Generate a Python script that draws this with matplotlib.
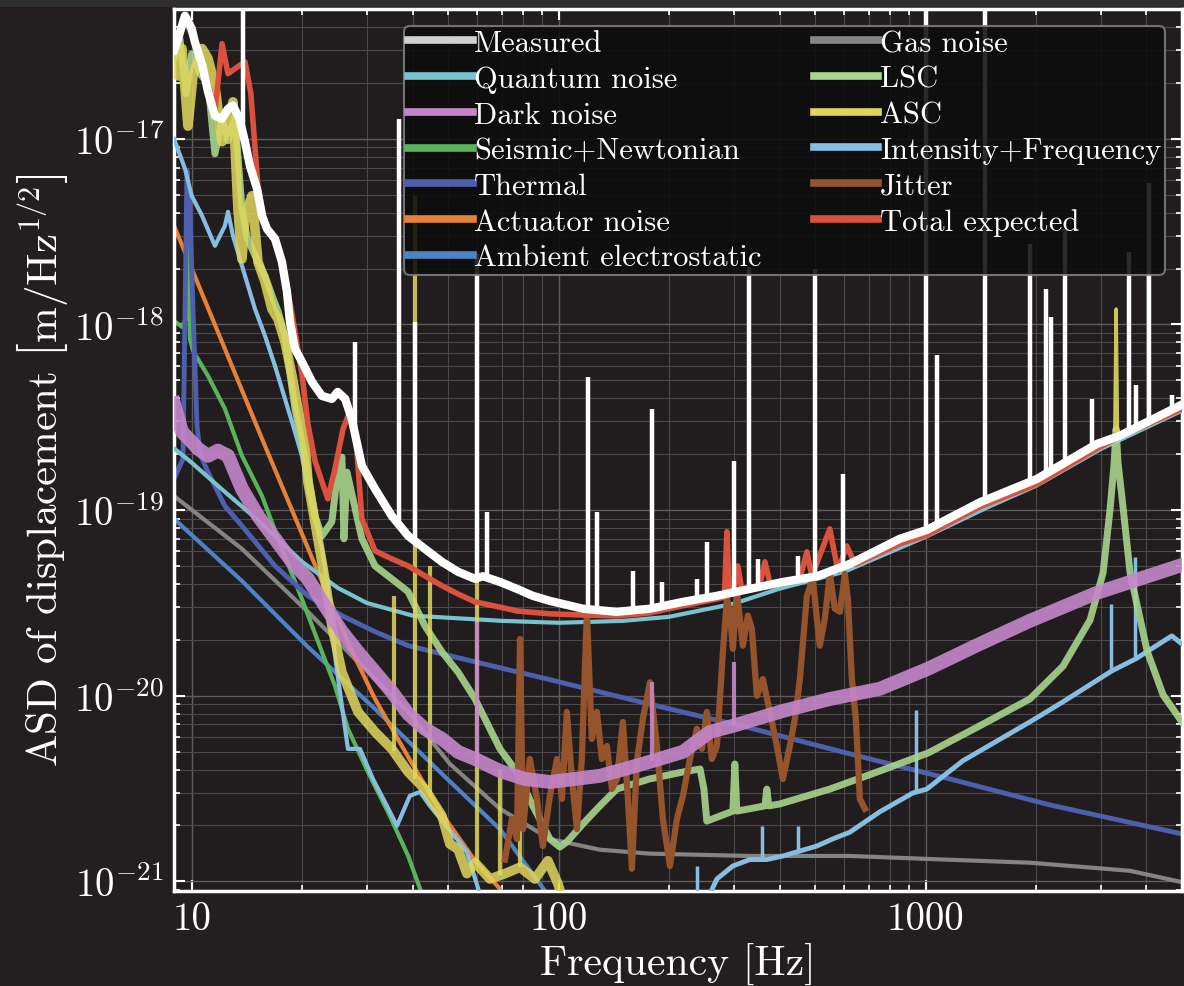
import numpy as np
import matplotlib
matplotlib.use('Agg')
import matplotlib.pyplot as plt
from matplotlib.lines import Line2D
from matplotlib.patches import Rectangle
from matplotlib.ticker import LogLocator, NullFormatter, LogFormatterSciNotation, FixedLocator

plt.rcParams['font.family'] = 'serif'
plt.rcParams['font.serif'] = ['cmr10']
plt.rcParams['mathtext.fontset'] = 'cm'
plt.rcParams['axes.unicode_minus'] = False
plt.rcParams['axes.formatter.use_mathtext'] = True

# ---------------- data (frequency in Hz, ASD in m/Hz^1/2) ----------------
measured_freq = [8.95, 9.18, 9.59, 10.0, 10.2, 10.7, 11.08, 11.57, 12.1, 12.56, 12.96, 13.5, 13.97, 14.41, 15.07,
                 15.55, 16.04, 16.87, 17.62, 18.18, 18.53, 19.12, 19.97, 21.27, 22.65, 24.1, 25.0, 26.2, 27.3, 29.1,
                 31.6, 35.1, 38.9, 43.2, 48.1, 53.2, 59.2, 62.2, 69.2, 77.0, 85.1, 94.7, 116.5, 144, 177, 218, 270,
                 332, 409, 506, 622, 851, 1008, 1406, 2011, 2930, 3380, 5000]
measured_asd = [3.0e-17, 3.46e-17, 4.6e-17, 3.92e-17, 3.33e-17, 2.47e-17, 1.79e-17, 1.33e-17, 1.28e-17, 1.45e-17,
                1.51e-17, 1.28e-17, 9.64e-18, 7.16e-18, 5.38e-18, 3.85e-18, 3.27e-18, 2.89e-18, 2.17e-18, 1.50e-18,
                1.03e-18, 7.39e-19, 6.3e-19, 4.91e-19, 4.12e-19, 3.97e-19, 4.33e-19, 3.97e-19, 3.10e-19, 1.73e-19,
                1.30e-19, 9.3e-20, 7.26e-20, 6.18e-20, 5.26e-20, 4.65e-20, 4.26e-20, 4.4e-20, 4.10e-20, 3.76e-20,
                3.45e-20, 3.24e-20, 2.94e-20, 2.83e-20, 2.94e-20, 3.2e-20, 3.45e-20, 3.76e-20, 4.10e-20, 4.4e-20,
                5.13e-20, 7.0e-20, 7.82e-20, 1.10e-19, 1.47e-19, 2.27e-19, 2.51e-19, 3.7e-19]
measured_line_freq = [13.8, 27.8, 36.7, 40.6, 60, 63.8, 120, 127.2, 159.4, 180, 191.2, 238.2, 253.5, 300, 331, 349,
                      448.7, 500, 595, 1000, 1074, 1452, 1924, 2127, 2195, 2397, 2840, 3581, 3740, 4060, 4690]
measured_line_peak = [1e-16, 8.05e-19, 1.28e-17, 1.03e-18, 2.40e-18, 9.8e-20, 5.2e-19, 9.8e-20, 4.7e-20, 3.51e-19,
                      4.1e-20, 4.26e-20, 6.75e-20, 1.84e-19, 2.04e-18, 5.46e-20, 5.65e-20, 1.99e-18, 1.57e-19, 1e-16,
                      6.86e-19, 1e-16, 2.72e-18, 1.56e-18, 1.10e-18, 3.27e-18, 3.97e-19, 2.46e-18, 4.73e-19, 5.79e-18,
                      4.18e-19]

quantum_freq = [9, 10, 12, 15, 20, 25, 30, 40, 50, 70, 100, 150, 200, 300, 400, 600, 1000, 1500, 2000, 3000, 5000]
quantum_asd = [2.13e-19, 1.80e-19, 1.31e-19, 8.97e-20, 5.26e-20, 3.81e-20, 3.16e-20, 2.70e-20, 2.63e-20, 2.53e-20,
               2.47e-20, 2.53e-20, 2.66e-20, 3.13e-20, 3.77e-20, 4.65e-20, 7.17e-20, 1.05e-19, 1.35e-19, 2.13e-19,
               3.43e-19]

dark_freq = [8.95, 9.41, 10.0, 10.4, 11.08, 11.79, 12.56, 13.71, 15.16, 16.87, 18.77, 20.74, 23.07, 25.67, 28.39,
             31.6, 35.1, 38.9, 43.2, 48.1, 53.2, 59.2, 69.2, 80.9, 94.7, 110.8, 129.6, 151.6, 177, 218, 258.4, 298.5,
             409, 549, 751, 1018, 1405, 1924, 2930, 5000]
dark_asd = [3.74e-19, 2.64e-19, 2.33e-19, 2.14e-19, 1.96e-19, 2.09e-19, 1.96e-19, 1.30e-19, 9.3e-20, 7.0e-20,
            5.26e-20, 4.26e-20, 3.05e-20, 2.21e-20, 1.72e-20, 1.34e-20, 1.05e-20, 7.98e-21, 6.63e-21, 5.85e-21,
            4.98e-21, 4.56e-21, 3.93e-21, 3.56e-21, 3.43e-21, 3.56e-21, 3.70e-21, 4.03e-21, 4.4e-21, 4.98e-21,
            6.38e-21, 6.88e-21, 8.28e-21, 9.6e-21, 1.09e-20, 1.40e-20, 1.90e-20, 2.53e-20, 3.58e-20, 5.06e-20]
dark_line_freq = [60, 180, 300]
dark_line_peak = [2.5e-20, 1.18e-20, 1.52e-20]

seismic_freq = [8.95, 9.41, 9.65, 9.77, 9.89, 10.08, 11.08, 12.32, 13.71, 15.55, 17.62, 19.97, 22.65, 24.58, 26.66,
                30.22, 34.26, 38.9, 42.42]
seismic_asd = [1.045e-18, 9.7e-19, 1.07e-18, 3.85e-18, 8.36e-19, 7.21e-19, 5.28e-19, 3.51e-19, 1.96e-19, 1.19e-19,
               6.18e-20, 3.32e-20, 1.72e-20, 1.13e-20, 6.63e-21, 3.88e-21, 2.37e-21, 1.37e-21, 8.55e-22]

thermal_freq = [8.95, 9.47, 9.71, 9.89, 10.08, 10.34, 10.54, 11.08, 12.32, 13.71, 16.87, 20.74, 25.67, 31.6, 38.9,
                50.55, 94.7, 177, 332, 622, 1165, 2182, 5000]
thermal_asd = [1.47e-19, 1.89e-19, 6.73e-18, 4.2e-18, 1.21e-18, 2.85e-19, 2.0e-19, 1.60e-19, 1.05e-19, 8.22e-20,
               5.0e-20, 3.45e-20, 2.70e-20, 2.21e-20, 1.86e-20, 1.64e-20, 1.22e-20, 9.0e-21, 6.7e-21, 4.86e-21,
               3.56e-21, 2.58e-21, 1.80e-21]

actuator_freq = [8.95, 15.55, 22.08, 27.0, 31.6, 38.9, 48.1, 59.2, 69.2, 78.4]
actuator_asd = [3.40e-18, 2.42e-19, 4.65e-20, 1.83e-20, 9.6e-21, 4.68e-21, 2.31e-21, 1.29e-21, 9.1e-22, 6.3e-22]

ambient_freq = [8.95, 13.71, 20.74, 31.6, 48.1, 69.2, 91.8, 100.6]
ambient_asd = [8.97e-20, 4.15e-20, 1.83e-20, 8.49e-21, 3.79e-21, 1.91e-21, 8.88e-22, 6.6e-22]

gas_freq = [8.95, 13.71, 20.74, 31.6, 38.9, 50.55, 69.2, 94.7, 129.6, 177, 332, 622, 1018, 1924, 3603, 5000]
gas_asd = [1.19e-19, 6.18e-20, 2.83e-20, 1.23e-20, 8.18e-21, 4.29e-21, 2.46e-21, 1.69e-21, 1.48e-21, 1.41e-21,
           1.37e-21, 1.37e-21, 1.32e-21, 1.26e-21, 1.14e-21, 9.9e-22]

lsc_freq = [8.95, 9.29, 9.65, 10.0, 10.54, 11.08, 11.57, 12.1, 12.56, 13.12, 13.71, 14.15, 14.6, 15.16, 15.84, 16.55,
            17.19, 17.96, 18.53, 19.12, 19.97, 20.74, 21.68, 22.65, 24.1, 25.0, 25.67, 26.0, 26.5, 27.8, 29.1, 31.6,
            35.1, 38.9, 43.2, 48.1, 53.2, 59.2, 69.2, 77.0, 85.1, 94.7, 100.8, 105.3, 116.5, 129.6, 144, 177, 218,
            243, 248.9, 253.5, 298.5, 302.2, 306, 332, 365, 369.4, 374, 400.5, 548.6, 751, 1018, 1405, 1924, 2368,
            2809, 3047, 3184, 3265, 3307, 3348, 3434, 3610, 4017, 4440, 5000]
lsc_asd = [2.70e-17, 3.46e-17, 1.75e-17, 2.87e-17, 2.24e-17, 1.98e-17, 8.3e-18, 1.28e-17, 9.75e-18, 1.32e-17,
           4.2e-18, 2.96e-18, 2.55e-18, 2.17e-18, 1.83e-18, 1.43e-18, 1.18e-18, 8.68e-19, 5.42e-19, 3.51e-19,
           2.33e-19, 1.57e-19, 9.3e-20, 7.26e-20, 8.64e-20, 1.60e-19, 1.93e-19, 7.0e-20, 1.60e-19, 1.05e-19,
           7.0e-20, 5.0e-20, 4.26e-20, 3.63e-20, 2.38e-20, 1.72e-20, 1.34e-20, 9.6e-21, 5.17e-21, 3.88e-21,
           2.55e-21, 1.69e-21, 1.53e-21, 1.63e-21, 2.04e-21, 2.55e-21, 3.14e-21, 3.56e-21, 3.88e-21, 4.03e-21,
           3.14e-21, 2.11e-21, 2.39e-21, 4.29e-21, 2.39e-21, 2.46e-21, 2.55e-21, 3.14e-21, 2.55e-21, 2.61e-21,
           3.14e-21, 3.93e-21, 4.92e-21, 6.88e-21, 9.6e-21, 1.44e-20, 2.56e-20, 4.59e-20, 1.015e-19, 1.78e-19,
           2.74e-19, 1.78e-19, 1.15e-19, 4.59e-20, 1.74e-20, 1.01e-20, 7.22e-21]

asc_freq = [8.95, 9.18, 9.41, 9.77, 10.08, 10.67, 11.08, 11.57, 12.1, 12.56, 12.96, 13.37, 13.71, 13.97, 14.6, 15.16,
            15.84, 16.55, 17.19, 17.96, 18.77, 19.48, 20.36, 20.74, 22.08, 23.07, 24.1, 25.67, 28.39, 31.6, 35.1,
            38.9, 43.2, 48.1, 50.55, 53.2, 56.25, 59.2, 65.0, 71.4, 78.5, 86.2, 93.5, 99.6, 104.6]
asc_asd = [3.25e-17, 2.18e-17, 3.06e-17, 1.17e-17, 2.18e-17, 3.06e-17, 2.70e-17, 1.93e-17, 9.64e-18, 1.17e-17,
           1.58e-17, 4.2e-18, 2.25e-18, 3.85e-18, 4.93e-18, 2.17e-18, 1.70e-18, 1.21e-18, 1.07e-18, 8.06e-19,
           5.28e-19, 3.51e-19, 2.33e-19, 1.42e-19, 7.0e-20, 4.26e-20, 2.38e-20, 1.34e-20, 8.18e-21, 6.38e-21,
           5.17e-21, 3.88e-21, 3.14e-21, 2.25e-21, 1.59e-21, 1.49e-21, 1.10e-21, 1.26e-21, 1.03e-21, 1.10e-21,
           1.19e-21, 1.03e-21, 1.29e-21, 9.7e-22, 7.1e-22]
asc_line_freq = [35.5, 40.6, 44.6, 60, 69.2, 78.5]
asc_line_peak = [3.45e-20, 4.93e-18, 5.0e-20, 4.26e-20, 4.03e-21, 4.56e-21]
asc_peak_freq = [3280, 3307, 3335]
asc_peak_asd = [2.7e-19, 1.21e-18, 2.7e-19]

intensity_lf_freq = [8.95, 9.59, 10.0, 10.67, 11.57, 12.32, 12.56, 12.96, 13.71, 14.88, 15.84, 16.87, 17.96, 19.12,
                     19.97, 20.74, 22.65, 23.5, 24.58, 25.67, 26.66, 28.75, 31.19, 34.05, 36.26, 39.33, 41.89, 44.6,
                     48.4, 52.8, 56.25, 61.0]
intensity_lf_asd = [1.0e-17, 6.89e-18, 4.93e-18, 3.85e-18, 2.65e-18, 3.40e-18, 4.04e-18, 3.0e-18, 2.07e-18,
                    1.21e-18, 8.68e-19, 5.97e-19, 3.97e-19, 2.64e-19, 1.96e-19, 1.30e-19, 6.18e-20, 3.77e-20,
                    1.64e-20, 8.81e-21, 5.17e-21, 5.17e-21, 3.56e-21, 2.55e-21, 1.99e-21, 2.89e-21, 3.03e-21,
                    2.55e-21, 2.09e-21, 1.69e-21, 1.44e-21, 8.55e-22]
intensity_hf_freq = [258.4, 270, 298.5, 332, 369, 409, 506, 558, 622, 751, 923, 1008, 1264, 1924, 2368, 3219, 3742,
                     4690, 5000]
intensity_hf_asd = [8.55e-22, 1.03e-21, 1.21e-21, 1.31e-21, 1.31e-21, 1.37e-21, 1.55e-21, 1.69e-21, 1.84e-21,
                    2.37e-21, 2.99e-21, 3.14e-21, 4.46e-21, 7.22e-21, 9.26e-21, 1.36e-20, 1.58e-20, 2.10e-20, 1.90e-20]
intensity_line_freq = [238.2, 358, 449, 940, 3198, 3718]
intensity_line_peak = [1.21e-21, 1.99e-21, 1.99e-21, 8.38e-21, 3.12e-20, 5.6e-20]

jitter_freq = [71.4, 74.6, 77.0, 78.5, 80.0, 83.5, 87.3, 90.6, 94.7, 99.0, 102.1, 105.3, 108.7, 112.2, 115.7, 119.4,
               123.2, 127.2, 131.2, 135.4, 139.7, 144.2, 149.7, 154.5, 158.4, 163.4, 169.7, 177.4, 185.3, 192.4,
               201.1, 210.1, 218.2, 228.0, 238.2, 245.8, 253.5, 261.6, 270.0, 280.4, 287.5, 293.0, 298.5, 306.1,
               317.8, 328.0, 336.3, 347.0, 360.3, 376.5, 393.4, 408.5, 426.8, 440.5, 454.5, 474.9, 493.1, 505.6,
               515.2, 531.6, 548.6, 566.1, 584.2, 602.8, 614.2, 629.8, 645.7, 662.2, 683.3]
jitter_asd = [1.31e-21, 2.17e-21, 1.69e-21, 2.02e-20, 1.91e-21, 4.56e-21, 2.78e-21, 1.55e-21, 2.89e-21, 4.56e-21,
              2.78e-21, 8.18e-21, 3.56e-21, 1.91e-21, 4.56e-21, 2.83e-20, 5.85e-21, 8.18e-21, 4.56e-21, 5.36e-21,
              3.14e-21, 3.56e-21, 7.22e-21, 2.78e-21, 1.17e-21, 4.4e-21, 7.5e-21, 1.18e-20, 5.36e-21, 2.17e-21,
              1.21e-21, 2.17e-21, 2.89e-21, 4.56e-21, 6.63e-21, 5.17e-21, 8.18e-21, 4.56e-21, 5.36e-21, 1.72e-20,
              3.32e-20, 2.83e-20, 1.79e-20, 3.63e-20, 1.86e-20, 2.70e-20, 2.29e-20, 1.0e-20, 1.23e-20, 8.18e-21,
              5.36e-21, 3.56e-21, 5.36e-21, 7.5e-21, 1.23e-20, 3.45e-20, 4.26e-20, 2.6e-20, 1.86e-20, 2.6e-20,
              4.53e-20, 2.94e-20, 2.83e-20, 4.53e-20, 3.32e-20, 1.23e-20, 7.5e-21, 2.78e-21, 2.46e-21]

total_freq = [9.07, 9.59, 10.2, 10.87, 11.57, 12.1, 12.56, 13.1, 13.97, 14.5, 15.16, 15.84, 16.87, 17.96, 18.77,
              19.97, 20.74, 21.68, 22.65, 23.5, 24.58, 25.85, 27.0, 28.03, 29.11, 31.6, 35.1, 38.9, 43.2, 48.1, 53.2,
              59.2, 69.2, 77.0, 94.7, 116.5, 144, 177, 218, 270, 283, 287.5, 292, 300, 308, 316, 353, 365, 377, 455,
              475, 490, 548.6, 577, 610, 643, 851, 1008, 1406, 2011, 2930, 3300, 5000]
total_asd = [3.3e-17, 4.4e-17, 3.3e-17, 2.3e-17, 1.4e-17, 3.25e-17, 2.24e-17, 2.38e-17, 2.6e-17, 1.75e-17,
             5.5e-18, 3.48e-18, 2.79e-18, 1.83e-18, 1.14e-18, 5.42e-19, 2.91e-19, 1.84e-19, 1.42e-19, 1.15e-19,
             1.67e-19, 2.73e-19, 3.42e-19, 2.42e-19, 8.97e-20, 6.03e-20, 5.46e-20, 5.0e-20, 4.42e-20, 3.91e-20,
             3.53e-20, 3.2e-20, 3.0e-20, 2.86e-20, 2.76e-20, 2.72e-20, 2.69e-20, 2.79e-20, 3.05e-20, 3.32e-20,
             3.4e-20, 7.64e-20, 3.5e-20, 3.55e-20, 5.0e-20, 3.67e-20, 3.9e-20, 5.26e-20, 4.0e-20, 4.3e-20,
             5.96e-20, 4.4e-20, 7.92e-20, 4.7e-20, 6.41e-20, 5.1e-20, 6.57e-20, 7.34e-20, 1.04e-19, 1.38e-19,
             2.14e-19, 2.42e-19, 3.51e-19]

y_ticks = [1e-21, 1e-20, 1e-19, 1e-18, 1e-17]
x_ticks = [10, 100, 1000]
x_tick_labels = ['10', '100', '1000']

labels = ['Measured', 'Quantum noise', 'Dark noise', 'Seismic+Newtonian', 'Thermal', 'Actuator noise',
          'Ambient electrostatic', 'Gas noise', 'LSC', 'ASC', 'Intensity+Frequency', 'Jitter', 'Total expected']
colors = ['#ffffff', '#79c3cf', '#c587cb', '#5bb35c', '#4e5fae', '#e58138', '#4f82c4', '#848484', '#a8d48c',
          '#e0d75c', '#86bde0', '#95542c', '#da523d']
C = dict(zip(labels, colors))


def foot(fl, f, v):
    return 10 ** np.interp(np.log10(fl), np.log10(f), np.log10(v))


# ---------------- figure ----------------
fig = plt.figure(figsize=(11.84, 9.87), dpi=100, facecolor='#231f20')
fig.patches.append(Rectangle((0, 1 - 8 / 987), 1, 8 / 987, transform=fig.transFigure,
                             facecolor='#2e2e2e', edgecolor='none'))
ax = fig.add_axes([174 / 1184, 1 - 892 / 987, (1182 - 174) / 1184, (892 - 10) / 987])
ax.set_facecolor('#211d1e')
ax.set_xscale('log')
ax.set_yscale('log')

ax.plot(gas_freq, gas_asd, color=C['Gas noise'], lw=3, zorder=2)
ax.plot(ambient_freq, ambient_asd, color=C['Ambient electrostatic'], lw=3, zorder=2)
ax.plot(actuator_freq, actuator_asd, color=C['Actuator noise'], lw=3, zorder=2)
ax.plot(seismic_freq, seismic_asd, color=C['Seismic+Newtonian'], lw=3, zorder=2)
ax.plot(thermal_freq, thermal_asd, color=C['Thermal'], lw=3.5, zorder=2.5)
ax.plot(intensity_lf_freq, intensity_lf_asd, color=C['Intensity+Frequency'], lw=3, zorder=3)
ax.plot(intensity_hf_freq, intensity_hf_asd, color=C['Intensity+Frequency'], lw=3.5, zorder=3)
ax.vlines(intensity_line_freq, foot(intensity_line_freq, intensity_hf_freq, intensity_hf_asd),
          intensity_line_peak, color=C['Intensity+Frequency'], lw=2.5, zorder=3)
ax.plot(quantum_freq, quantum_asd, color=C['Quantum noise'], lw=3, zorder=3)
ax.plot(lsc_freq, lsc_asd, color=C['LSC'], lw=5, alpha=0.9, zorder=3.5)
ax.plot(asc_freq, asc_asd, color=C['ASC'], lw=7, alpha=0.85, zorder=3.6)
ax.vlines(asc_line_freq, foot(asc_line_freq, asc_freq, asc_asd), asc_line_peak,
          color=C['ASC'], lw=3, alpha=0.85, zorder=3.6)
ax.plot(asc_peak_freq, asc_peak_asd, color=C['ASC'], lw=2.5, alpha=0.9, zorder=3.6)
ax.plot(jitter_freq, jitter_asd, color=C['Jitter'], lw=4.5, zorder=3.8)
ax.plot(dark_freq, dark_asd, color=C['Dark noise'], lw=10, alpha=0.9, zorder=4)
ax.vlines(dark_line_freq, foot(dark_line_freq, dark_freq, dark_asd), dark_line_peak,
          color=C['Dark noise'], lw=3, alpha=0.9, zorder=4)
ax.plot(total_freq, total_asd, color=C['Total expected'], lw=4, zorder=5)
ax.plot(measured_freq, measured_asd, color='white', lw=6, zorder=6)
ax.vlines(measured_line_freq, foot(measured_line_freq, measured_freq, measured_asd), measured_line_peak,
          color='white', lw=3.2, zorder=6)

ax.set_xlim(8.95, 5000)
ax.set_ylim(8.87e-22, 5.0e-17)

ax.set_xticks(x_ticks, labels=x_tick_labels)
ax.xaxis.set_minor_locator(LogLocator(base=10, subs=np.arange(2, 10), numticks=20))
ax.xaxis.set_minor_formatter(NullFormatter())
ax.yaxis.set_major_locator(FixedLocator(y_ticks))
ax.yaxis.set_major_formatter(LogFormatterSciNotation())
ax.yaxis.set_minor_locator(LogLocator(base=10, subs=np.arange(2, 10), numticks=20))
ax.yaxis.set_minor_formatter(NullFormatter())

ax.set_axisbelow(True)
ax.grid(True, which='major', color='#5e5e5e', lw=1.0)
ax.grid(True, which='minor', color='#4a4a4a', lw=0.8)

ax.tick_params(which='both', direction='in', top=True, right=True, colors='white', labelcolor='white')
ax.tick_params(which='major', length=8, width=1.5, labelsize=28, pad=7)
ax.tick_params(which='minor', length=4.5, width=1.2)
for s in ax.spines.values():
    s.set_color('white')
    s.set_linewidth(2.5)

ax.set_xlabel('Frequency [Hz]', fontsize=30, color='white', labelpad=4)
ax.set_ylabel(r'ASD of displacement $\left[\mathrm{m/Hz}^{1/2}\right]$', fontsize=31, color='white')
ax.yaxis.set_label_coords(-0.103, 0.478)

handles = [Line2D([], [], color=('#d0d0d0' if l == 'Measured' else C[l]), lw=5.5) for l in labels]
leg = ax.legend(handles, labels, loc='upper right', bbox_to_anchor=(0.9831, 0.9807), ncol=2, fontsize=22,
                handlelength=2.12, handletextpad=0.05, columnspacing=1.7, labelspacing=0.27, borderpad=0.12,
                borderaxespad=0, frameon=True, fancybox=True, facecolor='#0c0c0c', edgecolor='#808080',
                framealpha=0.88)
leg.get_frame().set_linewidth(1.5)
for t in leg.get_texts():
    t.set_color('white')
leg.set_zorder(10)

fig.savefig('out.png', dpi=100, facecolor=fig.get_facecolor())
